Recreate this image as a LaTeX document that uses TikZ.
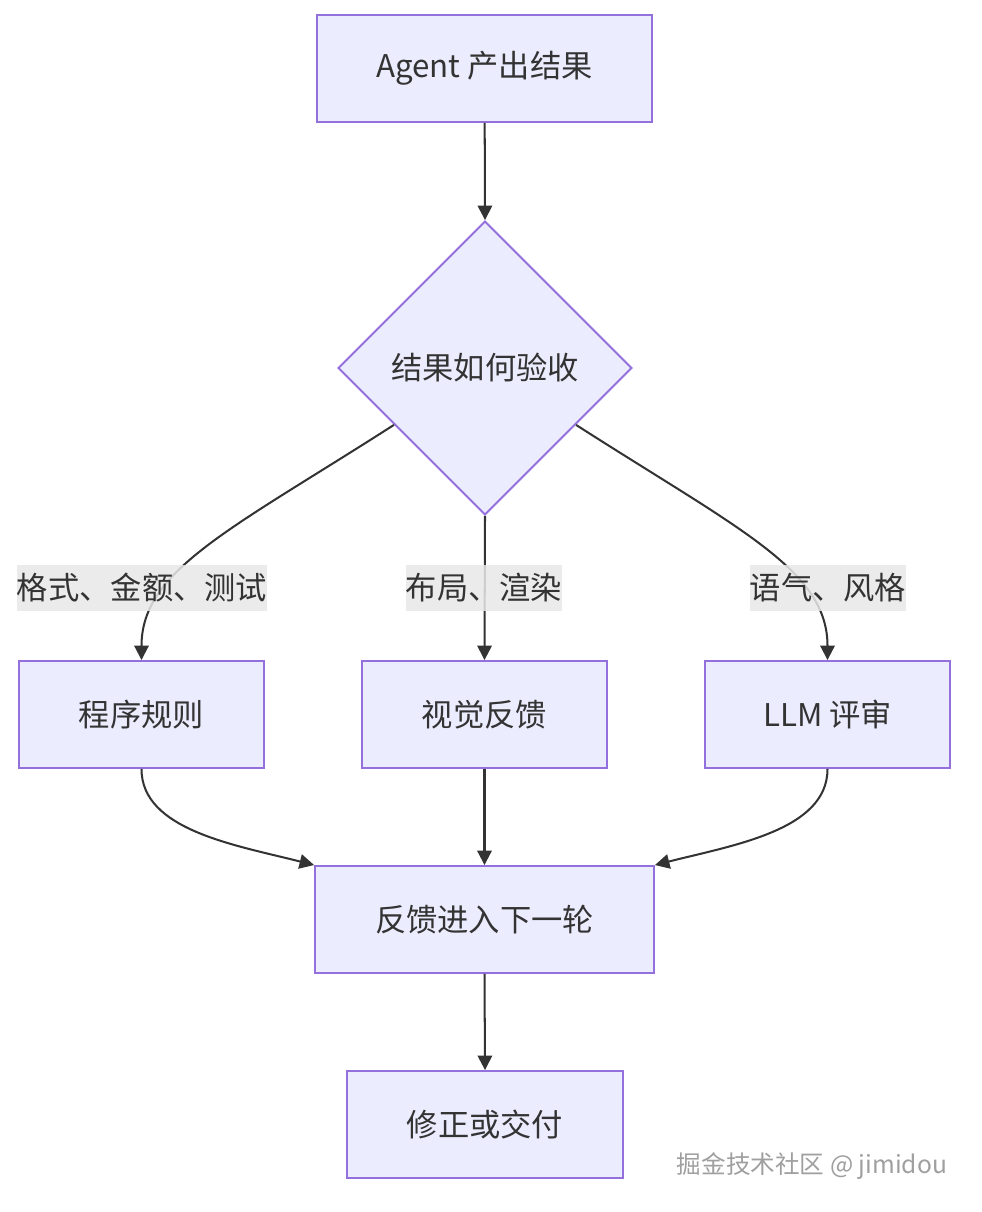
\documentclass[tikz,border=0pt]{standalone}
\usepackage{fontspec}
\setmainfont{Noto Sans CJK SC}
\usetikzlibrary{shapes.geometric,arrows.meta}
\definecolor{boxfill}{HTML}{ECECFF}
\definecolor{boxline}{HTML}{9370DB}
\definecolor{ink}{HTML}{333333}
\definecolor{labelbg}{HTML}{E8E8E8}
\begin{document}
\begin{tikzpicture}[x=0.02cm,y=-0.02cm,
	box/.style = {draw = boxline, fill = boxfill, line width = 1.1pt, text = ink, minimum height = 2.14cm, font = \fontsize{17.8}{21}\selectfont},
	check/.style = {diamond, aspect = 1, draw = boxline, fill = boxfill, line width = 1.1pt, text = ink, inner sep = 0pt, minimum width = 5.88cm, minimum height = 5.88cm, font = \fontsize{17.8}{21}\selectfont},
	tag/.style = {fill = labelbg, fill opacity = .85, text opacity = 1, text = ink, inner xsep = 0pt, inner ysep = 0pt, minimum height = .94cm, font = \fontsize{17.8}{21}\selectfont},
	flow/.style = {draw = ink, line width = 1.15pt, -{Triangle[length = .29cm, width = .29cm]}}]
	\useasboundingbox (0,0) rectangle (982,1212);
	\node [box, minimum width = 6.7cm] (agent) at (484.5,68.5) {Agent 产出结果};
	\node [check] (judge) at (485,368) {结果如何验收};
	\node [box, minimum width = 4.9cm] (rule) at (141.5,714.5) {程序规则};
	\node [box, minimum width = 4.9cm] (visual) at (484.5,714.5) {视觉反馈};
	\node [box, minimum width = 4.9cm] (llm) at (827.5,714.5) {LLM 评审};
	\node [box, minimum width = 6.78cm] (next) at (484.5,919.5) {反馈进入下一轮};
	\node [box, minimum width = 5.52cm] (fix) at (485,1124.5) {修正或交付};
	\draw [flow] (agent) -- (judge.north);
	\draw [flow] (judge.212) .. controls (230,530) and (141.5,570) .. (rule.north);
	\draw [flow] (judge.south) -- (visual.north);
	\draw [flow] (judge.-32) .. controls (740,530) and (827.5,570) .. (llm.north);
	\draw [flow] (rule.south) .. controls (141.5,830) and (235,845) .. (next.north west);
	\draw [flow] (visual.south) -- (next.north);
	\draw [flow] (llm.south) .. controls (827.5,830) and (734,845) .. (next.north east);
	\draw [flow] (next.south) -- (fix.north);
	\node [tag] (tagrule) at (142,588) {格式、金额、测试};
	\node [tag] (tagvisual) at (484,588) {布局、渲染};
	\node [tag] (tagllm) at (828,588) {语气、风格};
	\node [text = gray!75, font = \fontsize{14}{17}\selectfont] (mark) at (812,1166) {掘金技术社区 @ jimidou};
\end{tikzpicture}
\end{document}
